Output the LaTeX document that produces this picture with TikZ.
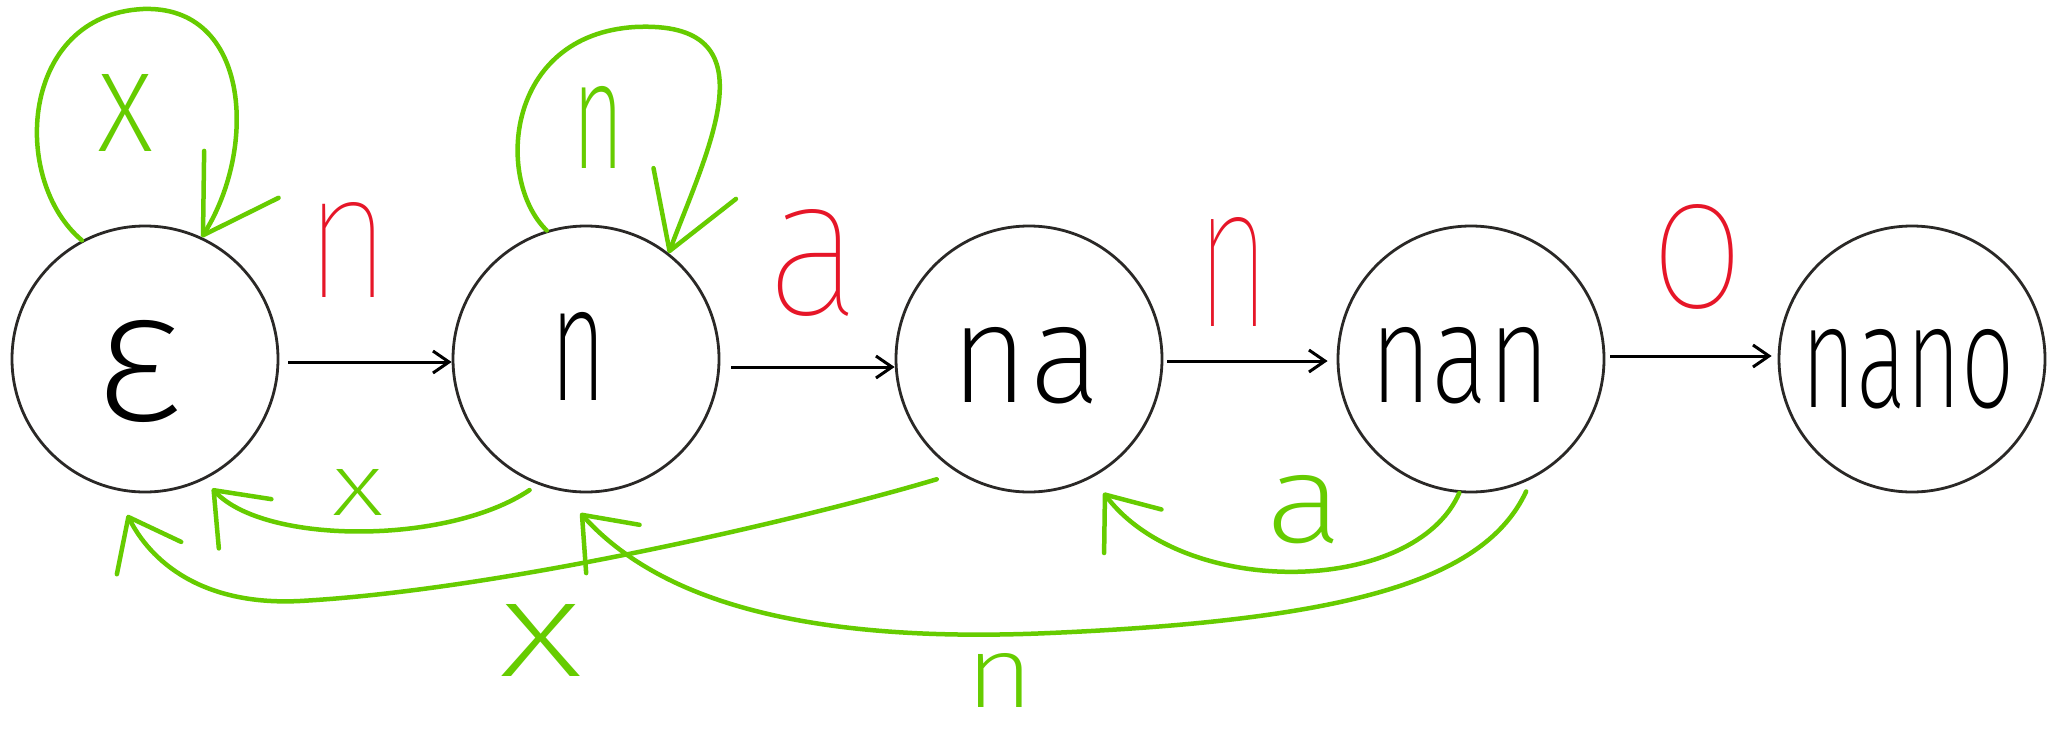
\documentclass[tikz,border=0pt]{standalone}
\usepackage{fontspec}
\usepackage{graphicx}
\usetikzlibrary{arrows.meta}
\newfontfamily\hand{Fira Sans ExtraLight}
\newfontfamily\handthin{Fira Sans Thin}
\definecolor{pen}{RGB}{42,40,38}
\definecolor{loopgreen}{RGB}{102,204,0}
\definecolor{inkred}{RGB}{230,22,40}
% handwritten-looking glyphs squeezed into a given width and height
\newcommand{\hw}[3]{\resizebox{#1pt}{#2pt}{\hand #3}}
\newcommand{\hwthin}[3]{\resizebox{#1pt}{#2pt}{\handthin #3}}
\begin{document}
\begin{tikzpicture}[x=1pt,y=-1pt,
  state/.style={circle, draw=pen, line width=2.8pt, minimum size=266pt, inner sep=0pt},
  word/.style={inner sep=0pt, text=black},
  redlbl/.style={inner sep=0pt, text=inkred},
  grnlbl/.style={inner sep=0pt, text=loopgreen},
  fwd/.style={draw=black, line width=3pt, -{Straight Barb[length=16pt,width=22pt]}},
  back/.style={draw=loopgreen, line width=4.5pt, line cap=round, line join=round,
    -{Straight Barb[length=46pt,width=72pt,round]}},
  selfloop/.style={back, -{Straight Barb[length=72pt,width=88pt,round]}}]

\fill[white] (0,0) rectangle (2060,728);
\useasboundingbox (0,0) rectangle (2060,728);

% states
\node[state] (eps)  at (145,359)  {};
\node[state] (n)    at (586,359)  {};
\node[state] (na)   at (1029,359) {};
\node[state] (nan)  at (1471,359) {};
\node[state] (nano) at (1912,359) {};

\node[word] (epsw)  at (139,371)  {\hw{88}{100}{ε}};
\node[word] (nw)    at (579,356)  {\hw{56}{88}{n}};
\node[word] (naw)   at (1026,366) {\hw{150}{75}{na}};
\node[word] (nanw)  at (1460,366) {\hw{180}{75}{nan}};
\node[word] (nanow) at (1908,369) {\hw{213}{78}{nano}};

% forward transitions
\draw[fwd, shorten <=9pt]  ([yshift=-3pt]eps.east) -- ([yshift=-3pt]n.west);
\draw[fwd, shorten <=11pt] ([yshift=-8pt]n.east) -- ([yshift=-8pt]na.west);
\draw[fwd, shorten <=4pt, shorten >=9pt] ([yshift=-2pt]na.east) -- ([yshift=-2pt]nan.west);
\draw[fwd, shorten <=5pt, shorten >=6pt] ([yshift=3pt]nan.east) -- ([yshift=3pt]nano.west);

\node[redlbl] (l1) at (348,250)  {\hwthin{85}{95}{n}};
\node[redlbl] (l2) at (814,263)  {\hwthin{95}{105}{a}};
\node[redlbl] (l3) at (1234,272) {\hwthin{74}{109}{n}};
\node[redlbl] (l4) at (1698,257) {\hwthin{96}{103}{o}};

% self loops
\draw[selfloop] (eps.118) .. controls (10,180) and (20,15) .. (143,9)
                .. controls (250,5) and (258,148) .. (eps.65);
\draw[selfloop] (n.107) .. controls (495,180) and (505,35) .. (635,27)
                .. controls (775,20) and (708,148) .. (n.52);
\node[grnlbl] (s1) at (126,113) {\hw{56}{77}{x}};
\node[grnlbl] (s2) at (599,127) {\hw{52}{82}{n}};

% failure transitions
\draw[back, shorten <=10pt, shorten >=12pt]
  (n.249) .. controls (448,545) and (265,545) .. (eps.-64);
\draw[back, shorten <=22pt, shorten >=28pt]
  (na.238) .. controls (800,520) and (500,590) .. (300,601)
  .. controls (200,606) and (150,560) .. (eps.257);
\draw[back, shorten >=19pt]
  (nan.265) .. controls (1415,595) and (1185,600) .. (na.-62);
\draw[back, shorten <=14pt, shorten >=30pt]
  (nan.-63) .. controls (1485,580) and (1350,620) .. (1050,633)
  .. controls (780,645) and (650,590) .. (n.259);

\node[grnlbl] (b1) at (358,492)  {\hw{51}{46}{x}};
\node[grnlbl] (b2) at (541,640)  {\hw{83}{72}{x}};
\node[grnlbl] (b3) at (1305,510) {\hw{78}{67}{a}};
\node[grnlbl] (b4) at (1000,680) {\hw{69}{54}{n}};
\end{tikzpicture}
\end{document}
